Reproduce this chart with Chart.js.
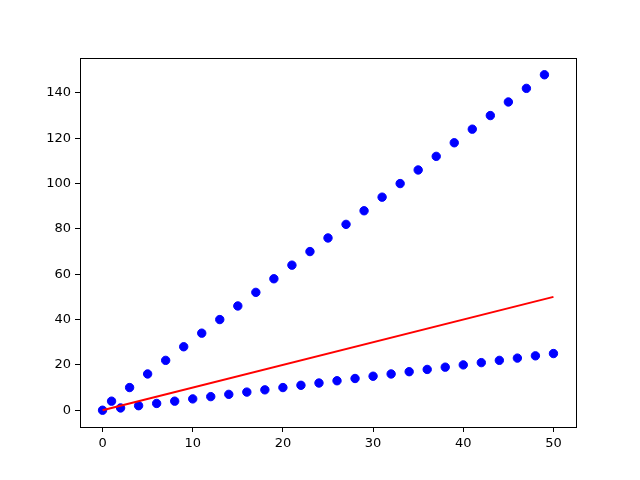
<!DOCTYPE html>
<html><head><meta charset="utf-8">
<script src="https://cdn.jsdelivr.net/npm/chart.js@4/dist/chart.umd.min.js"></script>
<style>html,body{margin:0;padding:0;background:#fff}#wrap{width:640px;height:480px}</style>
</head><body><div id="wrap"><canvas id="c" width="640" height="480"></canvas></div>
<script>
const oddX = [1,3,5,7,9,11,13,15,17,19,21,23,25,27,29,31,33,35,37,39,41,43,45,47,49];
const oddY = [4,10,16,22,28,34,40,46,52,58,64,70,76,82,88,94,100,106,112,118,124,130,136,142,148];
const evenX = [0,2,4,6,8,10,12,14,16,18,20,22,24,26,28,30,32,34,36,38,40,42,44,46,48,50];
const evenY = [0,1,2,3,4,5,6,7,8,9,10,11,12,13,14,15,16,17,18,19,20,21,22,23,24,25];
const lineX = [0,50];
const lineY = [0,50];
const xTicks = [0,10,20,30,40,50];
const yTicks = [0,20,40,60,80,100,120,140];

const pts = [];
oddX.forEach((x,i)=>pts.push({x:x,y:oddY[i]}));
evenX.forEach((x,i)=>pts.push({x:x,y:evenY[i]}));
const linePts = lineX.map((x,i)=>({x:x,y:lineY[i]}));

const frame = {
  id:'frame',
  afterDraw(chart){
    const a = chart.chartArea, ctx = chart.ctx;
    ctx.save();
    ctx.strokeStyle = '#000'; ctx.lineWidth = 1;
    ctx.strokeRect(Math.round(a.left)+0.5, Math.round(a.top)+0.5, Math.round(a.right-a.left), Math.round(a.bottom-a.top));
    ctx.restore();
  }
};

new Chart(document.getElementById('c'), {
  type:'scatter',
  data:{datasets:[
    {type:'line', data:linePts, borderColor:'#ff0000', borderWidth:2, pointRadius:0, fill:false, order:0},
    {data:pts, backgroundColor:'#0000ff', borderColor:'#0000ff', pointRadius:4.2, pointHoverRadius:4.2, order:1}
  ]},
  options:{
    responsive:false, animation:false,
    layout:{padding:{left:0,right:64,top:58,bottom:0}},
    plugins:{legend:{display:false}, tooltip:{enabled:false}},
    scales:{
      x:{type:'linear', min:-2.5, max:52.5,
        afterBuildTicks(s){s.ticks = xTicks.map(v=>({value:v}));},
        afterFit(s){s.height = 53;},
        grid:{display:true, drawOnChartArea:false, drawTicks:true, tickLength:5, color:'#000'},
        border:{display:false},
        ticks:{color:'#000', padding:4, maxRotation:0, font:{family:'DejaVu Sans', size:13}}
      },
      y:{type:'linear', min:-7.4, max:155.4,
        afterBuildTicks(s){s.ticks = yTicks.map(v=>({value:v}));},
        afterFit(s){s.width = 80;},
        grid:{display:true, drawOnChartArea:false, drawTicks:true, tickLength:5, color:'#000'},
        border:{display:false},
        ticks:{color:'#000', padding:4, font:{family:'DejaVu Sans', size:13}}
      }
    }
  },
  plugins:[frame]
});
</script></body></html>
